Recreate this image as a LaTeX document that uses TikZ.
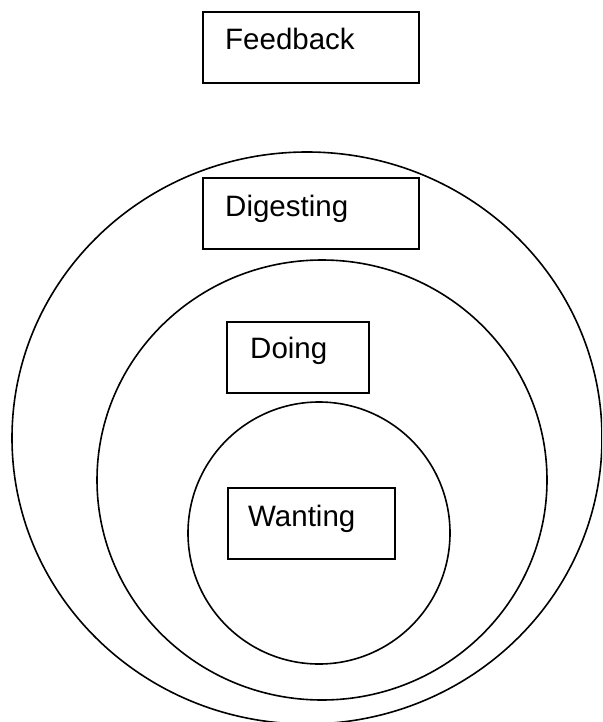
\documentclass[tikz,border=0pt]{standalone}
\usepackage{fontspec}
\setmainfont{Liberation Sans}
\usetikzlibrary{calc}
\tikzset{
  stagebox/.style={draw=black, line width=1.7pt, rectangle, inner sep=0pt, minimum height=71pt, anchor=north west},
  stagelabel/.style={anchor=base west, inner sep=0pt, font=\fontsize{29.5}{35}\selectfont},
  ring/.style={draw=black, line width=1.6pt},
}
\begin{document}
\begin{tikzpicture}[x=1pt, y=-1pt]
  \useasboundingbox (0,0) rectangle (602,722);
  \clip (0,0) rectangle (602,722);
  \fill[white] (0,0) rectangle (602,722);
  % rings
  \draw[ring] (307,438) ellipse [x radius=295pt, y radius=286pt];
  \draw[ring] (322,480) ellipse [x radius=225pt, y radius=220pt];
  \draw[ring] (319,533) circle [radius=131pt];
  % boxes
  \node[stagebox, minimum width=216pt] (fb) at (202,11) {};
  \node[stagelabel] (fbt) at ($(fb.north west)+(23,39)$) {Feedback};
  \node[stagebox, minimum width=216pt] (dg) at (202,177) {};
  \node[stagelabel] (dgt) at ($(dg.north west)+(23,39)$) {Digesting};
  \node[stagebox, minimum width=142pt] (do) at (226,321) {};
  \node[stagelabel] (dot) at ($(do.north west)+(24,37)$) {Doing};
  \node[stagebox, minimum width=167pt] (wa) at (227,487) {};
  \node[stagelabel] (wat) at ($(wa.north west)+(21,39)$) {Wanting};
\end{tikzpicture}
\end{document}
